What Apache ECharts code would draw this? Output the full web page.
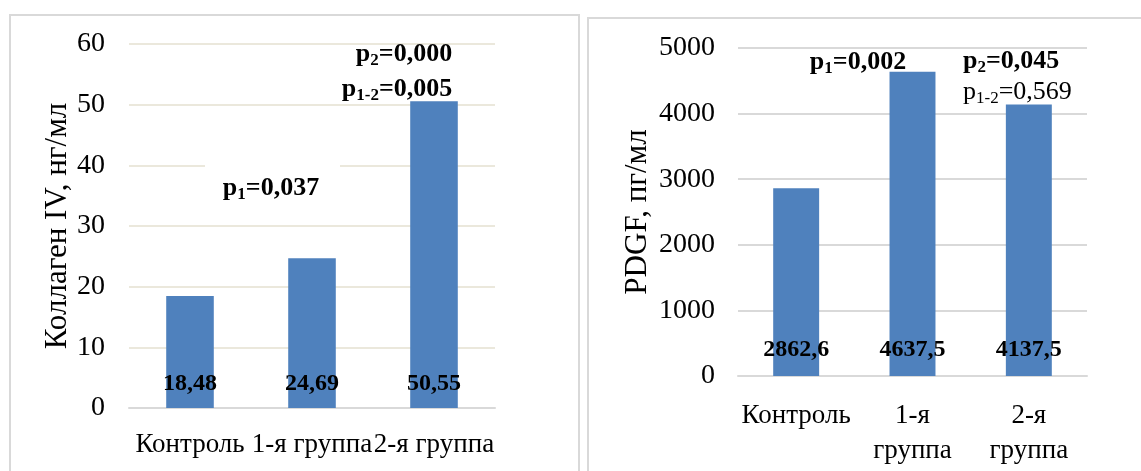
<!DOCTYPE html>
<html>
<head>
<meta charset="utf-8">
<script src="https://cdn.jsdelivr.net/npm/echarts@6/dist/echarts.min.js"></script>
<style>
html,body{margin:0;padding:0;background:#fff;}
#c{width:1141px;height:471px;}
</style>
</head>
<body>
<div id="c"></div>
<script>
const categories = ['Контроль', '1-я группа', '2-я группа'];
const collagenValues = [18.48, 24.69, 50.55];
const collagenLabels = ['18,48', '24,69', '50,55'];
const pdgfValues = [2862.6, 4637.5, 4137.5];
const pdgfLabels = ['2862,6', '4637,5', '4137,5'];
const leftAxisName = 'Коллаген IV, нг/мл';
const rightAxisName = 'PDGF, пг/мл';

const SERIF = '"Liberation Serif", "Times New Roman", serif';
const BLUE = '#4f81bd';

const richP = {
  b: {fontFamily: SERIF, fontSize: 26, fontWeight: 'bold', color: '#000', lineHeight: 30, verticalAlign: 'middle'},
  bs: {fontFamily: SERIF, fontSize: 17, fontWeight: 'bold', color: '#000', lineHeight: 13, verticalAlign: 'bottom'},
  n: {fontFamily: SERIF, fontSize: 26, color: '#000', lineHeight: 30, verticalAlign: 'middle'},
  ns: {fontFamily: SERIF, fontSize: 17, color: '#000', lineHeight: 13, verticalAlign: 'bottom'}
};

function ann(x, y, text, align) {
  return {type: 'text', z: 10, x: x, y: y,
    style: {text: text, rich: richP, align: align || 'center', verticalAlign: 'middle'}};
}

const chart = echarts.init(document.getElementById('c'));
chart.setOption({
  backgroundColor: '#fff',
  animation: false,
  grid: [
    {left: 129, right: 646, top: 44, bottom: 63},
    {left: 738, right: 54, top: 48, bottom: 95}
  ],
  xAxis: [
    {type: 'category', gridIndex: 0, data: categories,
      axisLine: {lineStyle: {color: '#d9d9d9', width: 2}}, axisTick: {show: false},
      axisLabel: {color: '#000', fontFamily: SERIF, fontSize: 27, margin: 23, interval: 0}},
    {type: 'category', gridIndex: 1, data: categories,
      axisLine: {lineStyle: {color: '#d9d9d9', width: 2}}, axisTick: {show: false},
      axisLabel: {color: '#000', fontFamily: SERIF, fontSize: 27, margin: 22, interval: 0, lineHeight: 35,
        formatter: v => v.replace(' ', '\n')}}
  ],
  yAxis: [
    {type: 'value', gridIndex: 0, min: 0, max: 60, interval: 10,
      name: leftAxisName, nameLocation: 'middle', nameGap: 56,
      nameTextStyle: {color: '#000', fontFamily: SERIF, fontSize: 31},
      axisLine: {show: false}, axisTick: {show: false},
      axisLabel: {color: '#000', fontFamily: SERIF, fontSize: 28, margin: 24, formatter: v => String(v)},
      splitLine: {lineStyle: {color: '#ebe8dc', width: 2}}},
    {type: 'value', gridIndex: 1, min: 0, max: 5000, interval: 1000,
      name: rightAxisName, nameLocation: 'middle', nameGap: 85,
      nameTextStyle: {color: '#000', fontFamily: SERIF, fontSize: 31},
      axisLine: {show: false}, axisTick: {show: false},
      axisLabel: {color: '#000', fontFamily: SERIF, fontSize: 28, margin: 23, formatter: v => String(v)},
      splitLine: {lineStyle: {color: '#d9d9d9', width: 2}}}
  ],
  series: [
    {type: 'bar', xAxisIndex: 0, yAxisIndex: 0, data: collagenValues, barWidth: '39%',
      itemStyle: {color: BLUE},
      label: {show: true, position: 'insideBottom', distance: 12, color: '#000',
        fontFamily: SERIF, fontSize: 24, fontWeight: 'bold',
        formatter: p => collagenLabels[p.dataIndex]}},
    {type: 'bar', xAxisIndex: 1, yAxisIndex: 1, data: pdgfValues, barWidth: '39.5%',
      itemStyle: {color: BLUE},
      label: {show: true, position: 'insideBottom', distance: 14, color: '#000',
        fontFamily: SERIF, fontSize: 24, fontWeight: 'bold',
        formatter: p => pdgfLabels[p.dataIndex]}}
  ],
  graphic: [
    {type: 'rect', z: -1, shape: {x: 10, y: 15, width: 569, height: 470},
      style: {fill: 'none', stroke: '#d9d9d9', lineWidth: 2}},
    {type: 'rect', z: -1, shape: {x: 588, y: 18, width: 600, height: 470},
      style: {fill: 'none', stroke: '#d9d9d9', lineWidth: 2}},
    {type: 'rect', z: 5, shape: {x: 205, y: 160, width: 135, height: 10},
      style: {fill: '#fff'}},
    ann(271, 188, '{b|p}{bs|1}{b|=0,037}'),
    ann(404, 54, '{b|p}{bs|2}{b|=0,000}'),
    ann(397, 89, '{b|p}{bs|1-2}{b|=0,005}'),
    ann(858, 62, '{b|p}{bs|1}{b|=0,002}'),
    ann(963, 61, '{b|p}{bs|2}{b|=0,045}', 'left'),
    ann(963, 92, '{n|p}{ns|1-2}{n|=0,569}', 'left')
  ]
});
</script>
</body>
</html>
